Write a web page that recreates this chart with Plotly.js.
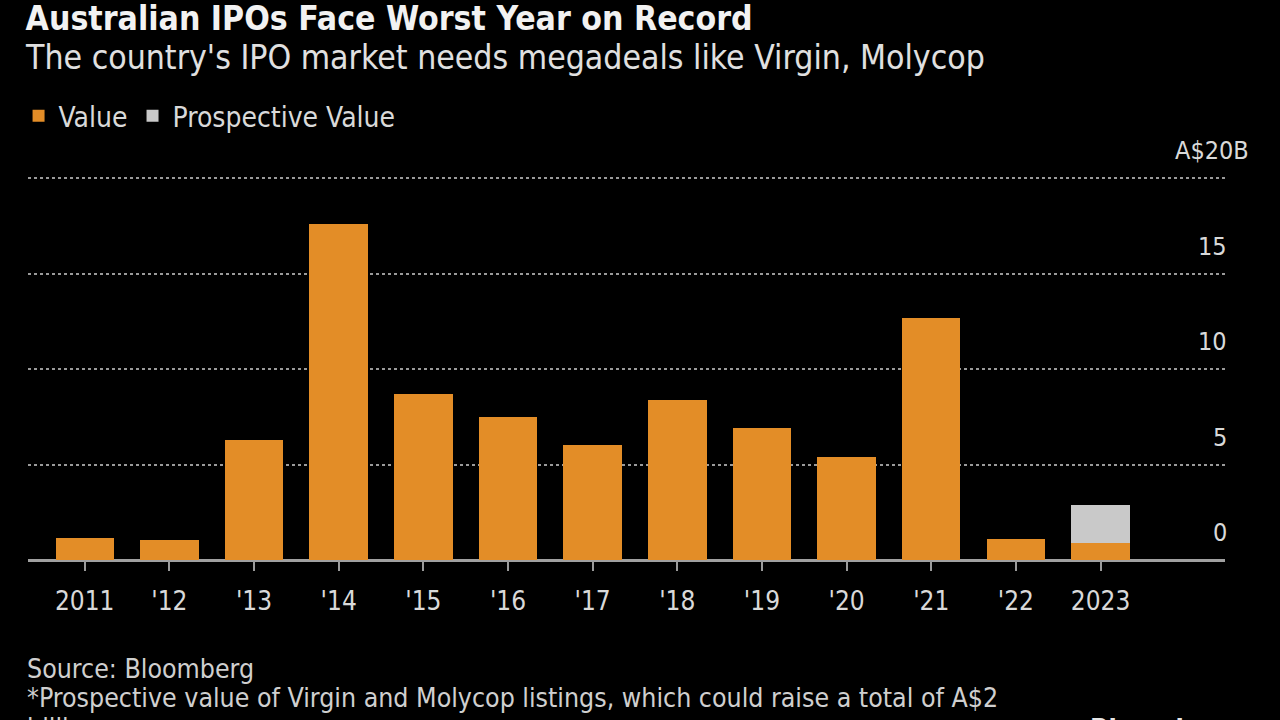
<!DOCTYPE html>
<html>
<head>
<meta charset="utf-8">
<script src="https://cdn.plot.ly/plotly-3.0.1.min.js"></script>
<style>html,body{margin:0;padding:0;background:#000;}#chart{width:1280px;height:720px;}</style>
</head>
<body>
<div id="chart"></div>
<script>
const years = ['2011', "'12", "'13", "'14", "'15", "'16", "'17", "'18", "'19", "'20", "'21", "'22", '2023'];
const value = [1.15, 1.05, 6.3, 17.6, 8.7, 7.5, 6.0, 8.4, 6.9, 5.4, 12.7, 1.1, 0.9];
const prospective = [null, null, null, null, null, null, null, null, null, null, null, null, 2.0];
const yTicks = [0, 5, 10, 15, 20];
const yTickText = ['0', '5', '10', '15', 'A$20B'];

const FONT = '"Liberation Sans Narrow", "DejaVu Sans Condensed", "Liberation Sans", sans-serif';
const xIdx = years.map((_, i) => i);

const traces = [
  {type: 'bar', name: 'Value', x: xIdx, y: value, marker: {color: '#E38D27'}, hoverinfo: 'skip'},
  {type: 'bar', name: 'Prospective Value', x: xIdx, y: prospective, marker: {color: '#C9C9C9'}, hoverinfo: 'skip'}
];

const PLOT_TOP = 177, PLOT_BOTTOM = 560, YMAX = 20.06;
const plotH = PLOT_BOTTOM - PLOT_TOP;
const pyToPaper = py => (PLOT_BOTTOM - py) / plotH;

const annotations = yTicks.map((v, i) => ({
  xref: 'paper', yref: 'y', x: 1, y: v, xanchor: 'right', yanchor: 'bottom',
  text: yTickText[i], showarrow: false, xshift: i === 4 ? 26 : 4, yshift: 11,
  font: {family: FONT, size: 25, color: '#D9D9D9'}
}));

annotations.push({
  xref: 'paper', yref: 'paper', x: 0, y: pyToPaper(57), xanchor: 'left', yanchor: 'middle', xshift: -5,
  showarrow: false, text: "The country's IPO market needs megadeals like Virgin, Molycop",
  font: {family: FONT, size: 33.5, color: '#E0E0E0'}
});

const footer = [
  {text: 'Source: Bloomberg', y: 668},
  {text: '*Prospective value of Virgin and Molycop listings, which could raise a total of A$2', y: 697},
  {text: 'billion', y: 727}
];
footer.forEach(f => annotations.push({
  xref: 'paper', yref: 'paper', x: 0, y: pyToPaper(f.y), xanchor: 'left', yanchor: 'middle', xshift: -3,
  showarrow: false, text: f.text, font: {family: FONT, size: 26.5, color: '#CFCFCF'}
}));
annotations.push({
  xref: 'paper', yref: 'paper', x: 1, y: pyToPaper(728), xanchor: 'right', yanchor: 'middle', xshift: 16,
  showarrow: false, text: '<b>Bloomberg</b>', font: {family: FONT, size: 27, color: '#E6E6E6'}
});

const layout = {
  width: 1280, height: 720,
  paper_bgcolor: '#000', plot_bgcolor: '#000',
  margin: {l: 28, r: 55, t: PLOT_TOP, b: 720 - PLOT_BOTTOM},
  barmode: 'stack', bargap: 0.31,
  showlegend: true,
  title: {text: '<b>Australian IPOs Face Worst Year on Record</b>', x: 0.02, xanchor: 'left', xref: 'container',
    y: 1 - 18 / 720, yanchor: 'middle', yref: 'container', font: {family: FONT, size: 33.5, color: '#F2F2F2'}},
  legend: {orientation: 'h', xref: 'container', yref: 'container', x: 0.0145, y: 1 - 116 / 720,
           xanchor: 'left', yanchor: 'middle', font: {family: FONT, size: 28, color: '#D9D9D9'},
           bgcolor: 'rgba(0,0,0,0)', itemwidth: 30, traceorder: 'normal'},
  xaxis: {
    range: [-0.67, 13.47], tickmode: 'array', tickvals: xIdx, ticktext: years,
    showgrid: false, zeroline: false, showline: false,
    ticks: 'outside', ticklen: 10, tickwidth: 2, tickcolor: '#9A9A9A', ticklabelstandoff: 8,
    tickfont: {family: FONT, size: 26, color: '#D9D9D9'}, fixedrange: true
  },
  yaxis: {
    range: [0, YMAX], tickmode: 'array', tickvals: yTicks, showticklabels: false,
    showgrid: true, gridcolor: '#9A9A9A', gridwidth: 2, griddash: 'dot',
    zeroline: true, zerolinecolor: '#A0A0A0', zerolinewidth: 3, fixedrange: true
  },
  annotations: annotations
};

Plotly.newPlot('chart', traces, layout, {displayModeBar: false, staticPlot: true});
</script>
</body>
</html>
